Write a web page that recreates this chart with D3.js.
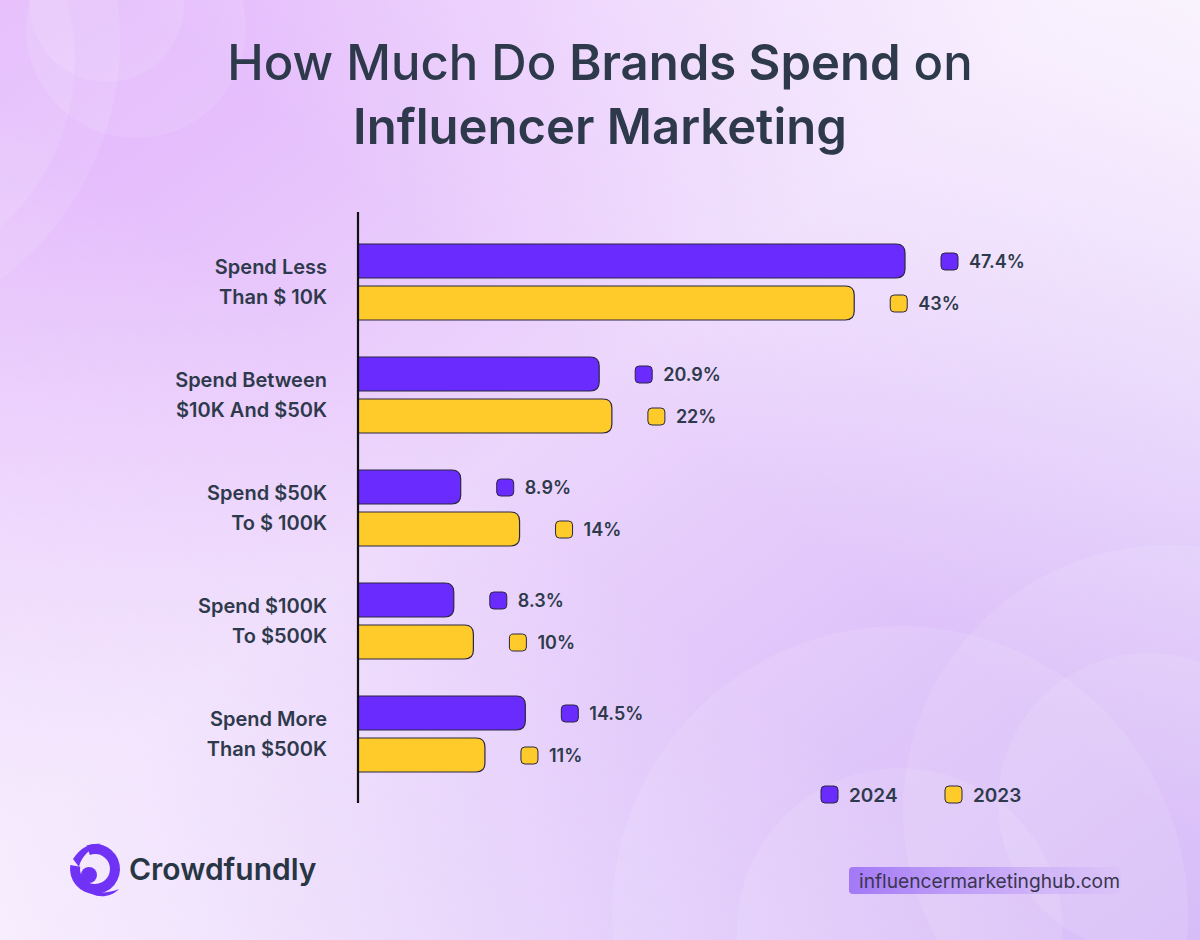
<!doctype html>
<html lang="en">
<head>
  <meta charset="utf-8">
  <title>How Much Do Brands Spend on Influencer Marketing</title>
  <style>
    html, body { margin: 0; padding: 0; }
    body { width: 1200px; height: 940px; overflow: hidden; }
    svg { display: block; font-family: Inter, "Noto Sans", sans-serif; }
  </style>
</head>
<body>
  <script src="https://cdn.jsdelivr.net/npm/d3@7/dist/d3.min.js"></script>
  <script>
(function() {

var categories = [
  ["Spend Less", "Than $ 10K"],
  ["Spend Between", "$10K And $50K"],
  ["Spend $50K", "To $ 100K"],
  ["Spend $100K", "To $500K"],
  ["Spend More", "Than $500K"]
];
var years = ["2024", "2023"];
var values2024 = [47.4, 20.9, 8.9, 8.3, 14.5];
var values2023 = [43, 22, 14, 10, 11];
var valueLabels2024 = ["47.4%", "20.9%", "8.9%", "8.3%", "14.5%"];
var valueLabels2023 = ["43%", "22%", "14%", "10%", "11%"];

var W = 1200, H = 940;
var ink = "#2e3a4b";
var colors = { "2024": "#6a2bff", "2023": "#ffcb2b" };

var svg = d3.select("body").append("svg")
    .attr("width", W)
    .attr("height", H);

// background
var defs = svg.append("defs");
var bg = defs.append("linearGradient").attr("id", "bg")
    .attr("x1", 0).attr("y1", 0).attr("x2", 1).attr("y2", 1);
bg.append("stop").attr("offset", "0%").attr("stop-color", "#e2b2fc");
bg.append("stop").attr("offset", "45%").attr("stop-color", "#ecd6fc");
bg.append("stop").attr("offset", "100%").attr("stop-color", "#cfaef8");
var bg2 = defs.append("linearGradient").attr("id", "bg2")
    .attr("x1", 1).attr("y1", 0).attr("x2", 0).attr("y2", 1);
bg2.append("stop").attr("offset", "0%").attr("stop-color", "#ffffff").attr("stop-opacity", 0.75);
bg2.append("stop").attr("offset", "45%").attr("stop-color", "#ffffff").attr("stop-opacity", 0);
bg2.append("stop").attr("offset", "55%").attr("stop-color", "#ffffff").attr("stop-opacity", 0);
bg2.append("stop").attr("offset", "100%").attr("stop-color", "#ffffff").attr("stop-opacity", 0.6);

svg.append("rect").attr("width", W).attr("height", H).attr("fill", "url(#bg)");
svg.append("rect").attr("width", W).attr("height", H).attr("fill", "url(#bg2)");

var circles = [
  [136, 28, 110], [107, 5, 77], [-150, 60, 225], [-180, 40, 300],
  [900, 914, 288], [900, 931, 163], [1168, 810, 265], [1148, 803, 150]
];
svg.append("g").selectAll("circle").data(circles).enter().append("circle")
    .attr("cx", function(d) { return d[0]; })
    .attr("cy", function(d) { return d[1]; })
    .attr("r", function(d) { return d[2]; })
    .attr("fill", "#ffffff")
    .attr("fill-opacity", 0.1);

// title
var title = svg.append("text")
    .attr("text-anchor", "middle")
    .attr("fill", ink)
    .attr("font-size", 49);
var t1 = title.append("tspan").attr("x", 600).attr("y", 80);
t1.append("tspan").attr("font-weight", 500).text("How Much Do ");
t1.append("tspan").attr("font-weight", 600).text("Brands Spend");
t1.append("tspan").attr("font-weight", 500).text(" on");
title.append("tspan").attr("x", 600).attr("y", 144)
    .attr("font-weight", 600).text("Influencer Marketing");

// scales
var x = d3.scaleLinear().domain([0, 47.4]).range([358, 905]);
var y = d3.scaleBand().domain(d3.range(categories.length))
    .range([244, 244 + 113 * categories.length]).paddingInner(0).paddingOuter(0);
var barH = 34, barGap = 8, rad = 9;

function barPath(x0, x1, top, h) {
  var r = Math.min(rad, (x1 - x0));
  return "M" + x0 + "," + top +
    "H" + (x1 - r) +
    "Q" + x1 + "," + top + " " + x1 + "," + (top + r) +
    "V" + (top + h - r) +
    "Q" + x1 + "," + (top + h) + " " + (x1 - r) + "," + (top + h) +
    "H" + x0 + "Z";
}

var rows = categories.map(function(c, i) {
  return {
    lines: c,
    bars: [
      { year: "2024", v: values2024[i], label: valueLabels2024[i], off: 0 },
      { year: "2023", v: values2023[i], label: valueLabels2023[i], off: barH + barGap }
    ]
  };
});

var g = svg.append("g");
var row = g.selectAll("g.row").data(rows).enter().append("g")
    .attr("class", "row")
    .attr("transform", function(d, i) { return "translate(0," + y(i) + ")"; });

// category labels
row.append("text")
    .attr("text-anchor", "end")
    .attr("fill", ink)
    .attr("font-size", 20)
    .attr("font-weight", 600)
    .selectAll("tspan").data(function(d) { return d.lines; }).enter().append("tspan")
    .attr("x", 327)
    .attr("y", function(d, i) { return barH + barGap / 2 - 8.5 + i * 30; })
    .text(function(d) { return d; });

var bar = row.selectAll("g.bar").data(function(d) { return d.bars; }).enter().append("g")
    .attr("class", "bar");

bar.append("path")
    .attr("d", function(d) { return barPath(x(0), x(d.v), d.off, barH); })
    .attr("fill", function(d) { return colors[d.year]; })
    .attr("stroke", "#2b2740")
    .attr("stroke-width", 1.2);

bar.append("rect")
    .attr("x", function(d) { return x(d.v) + 36; })
    .attr("y", function(d) { return d.off + barH / 2 - 8; })
    .attr("width", 17).attr("height", 17).attr("rx", 4)
    .attr("fill", function(d) { return colors[d.year]; })
    .attr("stroke", "#2b2740")
    .attr("stroke-width", 1);

bar.append("text")
    .attr("x", function(d) { return x(d.v) + 64; })
    .attr("y", function(d) { return d.off + barH / 2 + 6.5; })
    .attr("fill", ink)
    .attr("font-size", 18)
    .attr("font-weight", 600)
    .text(function(d) { return d.label; });

// axis line
svg.append("line")
    .attr("x1", 358).attr("x2", 358)
    .attr("y1", 212).attr("y2", 803)
    .attr("stroke", "#111111")
    .attr("stroke-width", 2.2);

// legend
var legend = svg.append("g").selectAll("g").data(years).enter().append("g")
    .attr("transform", function(d, i) { return "translate(" + (821 + i * 124) + ",786)"; });
legend.append("rect")
    .attr("width", 17).attr("height", 17).attr("rx", 4)
    .attr("fill", function(d) { return colors[d]; })
    .attr("stroke", "#2b2740").attr("stroke-width", 1);
legend.append("text")
    .attr("x", 28).attr("y", 15.5)
    .attr("fill", ink)
    .attr("font-size", 19)
    .attr("font-weight", 600)
    .text(function(d) { return d; });

// logo
var logo = svg.append("g").attr("transform", "translate(95,869)");
var ring = d3.arc().innerRadius(15).outerRadius(25);
logo.append("path")
    .attr("d", ring({ startAngle: -0.35, endAngle: Math.PI * 1.55 }))
    .attr("fill", "#7033f5");
logo.append("path")
    .attr("d", "M-22,-10 C-14,-22 -4,-26 6,-25 C-6,-20 -14,-12 -16,-2 Z")
    .attr("fill", "#7033f5");
logo.append("circle").attr("cx", -6).attr("cy", 6).attr("r", 8).attr("fill", "#7033f5");
logo.append("path")
    .attr("d", "M-12,18 C0,26 14,24 24,20 C14,30 -2,30 -12,18 Z")
    .attr("fill", "#7033f5");
svg.append("text")
    .attr("x", 129).attr("y", 880)
    .attr("fill", "#283644")
    .attr("font-size", 30)
    .attr("font-weight", 600)
    .text("Crowdfundly");

// source badge
var badge = defs.append("linearGradient").attr("id", "badge")
    .attr("x1", 0).attr("y1", 0).attr("x2", 1).attr("y2", 0);
badge.append("stop").attr("offset", "0%").attr("stop-color", "#9f74f6").attr("stop-opacity", 0.95);
badge.append("stop").attr("offset", "100%").attr("stop-color", "#b48cf6").attr("stop-opacity", 0.05);
svg.append("rect")
    .attr("x", 849).attr("y", 867).attr("width", 272).attr("height", 27).attr("rx", 4)
    .attr("fill", "url(#badge)");
svg.append("text")
    .attr("x", 859).attr("y", 888)
    .attr("fill", "#3a3550")
    .attr("font-size", 19.2)
    .attr("font-weight", 400)
    .text("influencermarketinghub.com");

})();
  </script>
</body>
</html>
